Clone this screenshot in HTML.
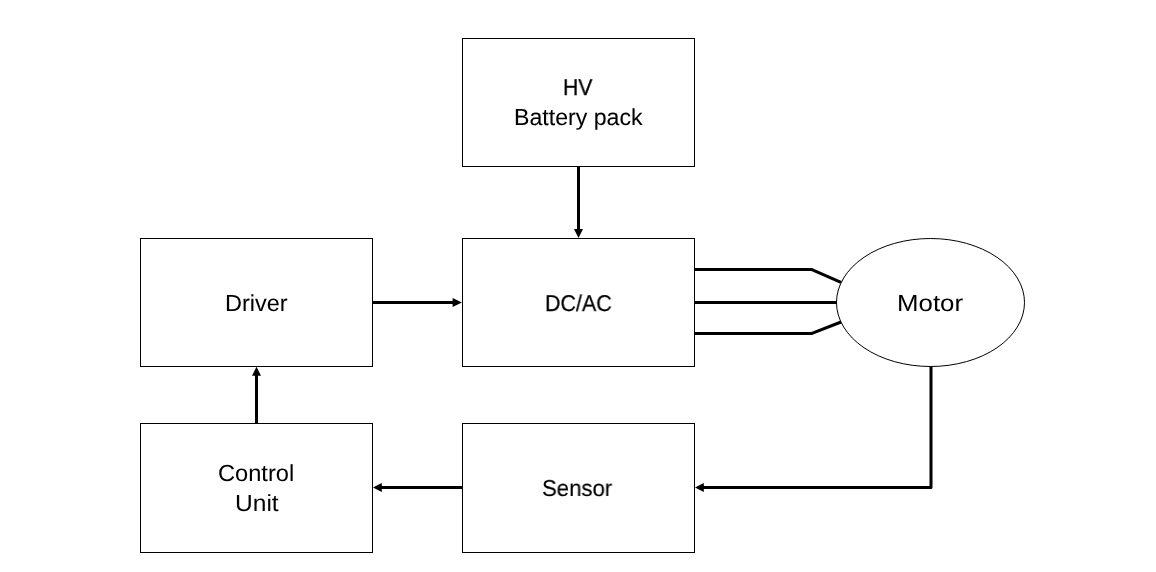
<!DOCTYPE html>
<html lang="en">
<head>
<meta charset="utf-8">
<title>Motor drive block diagram</title>
<style>
html,body{margin:0;padding:0;background:#fff;}
body{width:1156px;height:572px;overflow:hidden;position:relative;font-family:"Liberation Sans",sans-serif;color:#000;}
.diagram{position:absolute;left:0;top:0;width:1156px;height:572px;background:#fff;}
svg.wires{position:absolute;left:0;top:0;display:block;pointer-events:none;}
.box{position:absolute;box-sizing:border-box;border:1px solid #000;background:#fff;}
.box.motor{border:0;background:transparent;}
.lbl{position:absolute;height:30px;margin:0;white-space:nowrap;font-size:23.26px;line-height:30px;text-align:left;transform-origin:0 0;will-change:transform;text-rendering:geometricPrecision;font-kerning:none;}
</style>
</head>
<body>
<main class="diagram">
<div class="box hv" style="left:462px;top:38px;width:233px;height:129px"><div class="lbl" style="left:99.60px;top:33.00px;font-size:22.85px;transform:scaleX(0.9252);-webkit-text-stroke:0.28px #000">HV</div><div class="lbl" style="left:50.74px;top:63.00px;font-size:23.15px;transform:scaleX(0.9998);-webkit-text-stroke:0.07px #000">Battery pack</div></div>
<div class="box driver" style="left:140px;top:238px;width:233px;height:129px"><div class="lbl" style="left:84.10px;top:49.00px;font-size:23.2px;transform:scaleX(1.0115);-webkit-text-stroke:0.04px #000">Driver</div></div>
<div class="box dcac" style="left:462px;top:238px;width:233px;height:129px"><div class="lbl" style="left:81.60px;top:49.00px;font-size:22.9px;transform:scaleX(0.9362);-webkit-text-stroke:0.25px #000">DC/AC</div></div>
<div class="box control" style="left:140px;top:423px;width:233px;height:130px"><div class="lbl" style="left:76.78px;top:34.00px;font-size:23.22px;transform:scaleX(1.0179);-webkit-text-stroke:0.03px #000">Control</div><div class="lbl" style="left:93.51px;top:64.00px;font-size:23.26px;transform:scaleX(1.0559)">Unit</div></div>
<div class="box sensor" style="left:462px;top:423px;width:233px;height:130px"><div class="lbl" style="left:79.21px;top:49.00px;font-size:23.01px;transform:scaleX(0.9626);-webkit-text-stroke:0.17px #000">Sensor</div></div>
<svg class="wires" width="1156" height="572" viewBox="0 0 1156 572" aria-hidden="true">
  <!-- motor outline -->
  <ellipse cx="930.5" cy="302.5" rx="94" ry="64" fill="#fff" stroke="#000" stroke-width="1"/>
  <g stroke="#000" stroke-width="3" fill="none" stroke-linecap="butt">
    <!-- three-phase lines DC/AC to Motor -->
    <path d="M695 269.5 H812.5"/>
    <path d="M811.3 269.3 L841 282.4"/>
    <path d="M695 302.5 H837"/>
    <path d="M695 333.5 H812.5"/>
    <path d="M811.3 333.7 L841 322"/>
    <!-- HV battery to DC/AC -->
    <path d="M578.5 167 V230"/>
    <!-- Driver to DC/AC -->
    <path d="M373 302.5 H454"/>
    <!-- Control unit to Driver -->
    <path d="M256.5 423 V375"/>
    <!-- Sensor to Control unit -->
    <path d="M462 487.5 H381"/>
    <!-- Motor to Sensor -->
    <path d="M931 366.5 V487.5 H703" stroke-linejoin="round"/>
  </g>
  <g fill="#000" stroke="none">
    <polygon points="574,229 583,229 578.5,238"/>
    <polygon points="452.6,298 452.6,307 461.9,302.5"/>
    <polygon points="252,375.7 261,375.7 256.5,366.8"/>
    <polygon points="381.8,483 381.8,492 373,487.5"/>
    <polygon points="703.8,483 703.8,492 695,487.5"/>
  </g>
</svg>
<div class="box motor" style="left:836px;top:238px;width:189px;height:129px"><div class="lbl" style="left:61.18px;top:50.00px;font-size:23.26px;transform:scaleX(1.1109)">Motor</div></div>
</main>
</body>
</html>
